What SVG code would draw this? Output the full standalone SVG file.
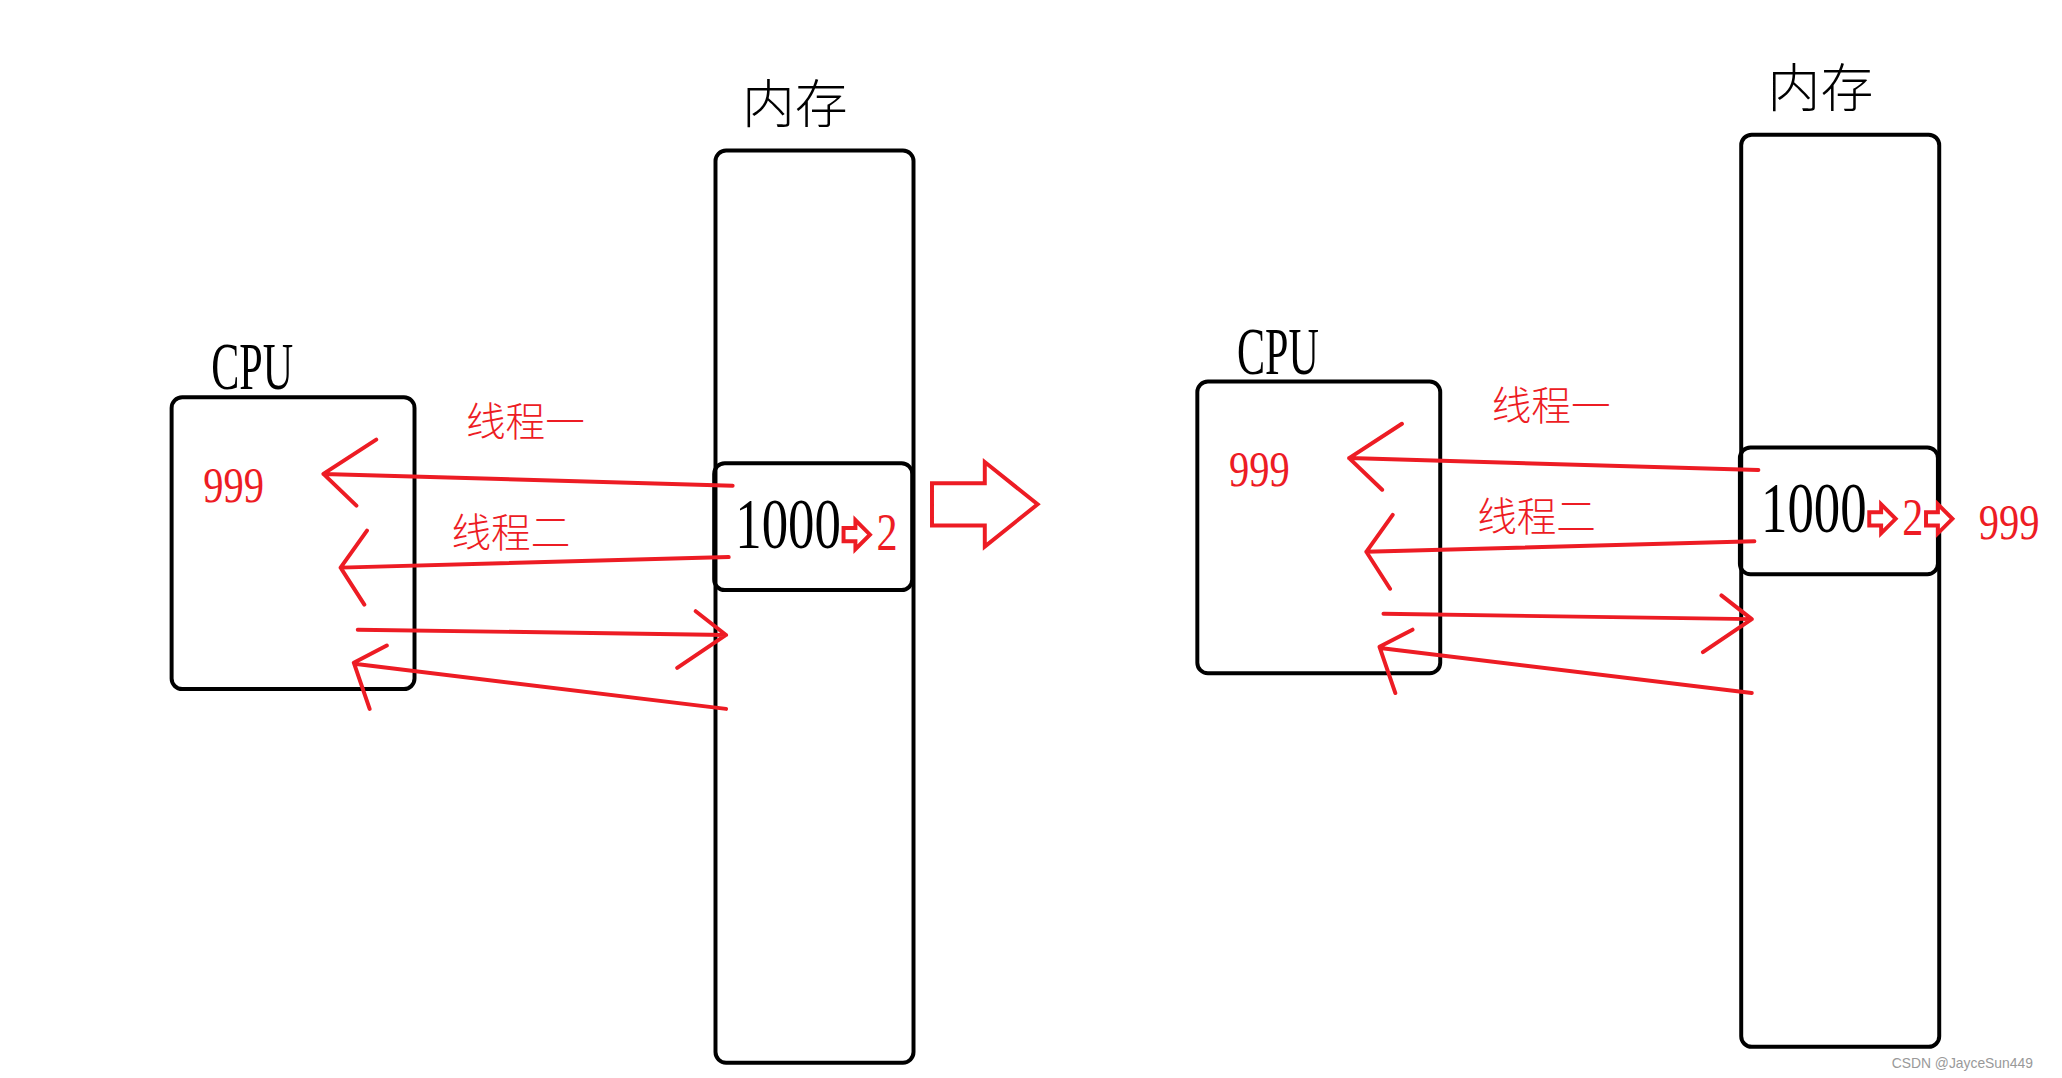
<svg xmlns="http://www.w3.org/2000/svg" width="2062" height="1078" viewBox="0 0 2062 1078">
<style>
.box{fill:none;stroke:#000;stroke-width:3}
.ln{fill:none;stroke:#ed1c24;stroke-width:3;stroke-linecap:round;stroke-linejoin:round}
.hol{fill:#fff;stroke:#ed1c24;stroke-width:3}
.blk{font-family:"Liberation Serif",serif;fill:#000}
.red{font-family:"Liberation Serif",serif;fill:#ed1c24}
.cn{font-family:"Noto Sans CJK SC",sans-serif;fill:#ed1c24;font-size:30px;font-weight:300}
.cnb{font-family:"Noto Sans CJK SC",sans-serif;fill:#000;font-size:40px;font-weight:300}
</style>
<rect width="2062" height="1078" fill="#fff"/>
<defs>
<g id="panel">
  <g id="mem"><rect class="box" x="542" y="114" width="150" height="691" rx="8"/><text class="cnb" x="562" y="93">内存</text></g>
  <g id="cell"><rect class="box" x="541" y="351" width="150" height="96" rx="8"/>
    <text class="blk" x="557" y="415" font-size="54" textLength="80" lengthAdjust="spacingAndGlyphs">1000</text>
    <path class="hol" stroke-width="2" d="M639 400h9v-6l11 11-11 11v-6h-9z"/>
    <text class="red" x="664" y="417" font-size="40" textLength="16" lengthAdjust="spacingAndGlyphs">2</text></g>
  <g id="cpu"><rect class="box" x="130" y="301" width="184" height="221" rx="8"/>
    <text class="blk" x="160" y="295" font-size="52" textLength="62" lengthAdjust="spacingAndGlyphs">CPU</text>
    <text class="red" x="154" y="380" font-size="38" textLength="46" lengthAdjust="spacingAndGlyphs">999</text></g>
  <text class="cn" x="353" y="330">线程一</text>
  <text class="cn" x="342" y="414">线程二</text>
  <g id="conn">
    <path class="ln" d="M555 368L245 359M285 333L245 359L270 383"/>
    <path class="ln" d="M552 422L258 430M278 402L258 430L276 458"/>
    <path class="ln" d="M271 477L550 481M527 463L550 481L513 506"/>
    <path class="ln" d="M550 537L270 503M293 489L268 502L280 537"/>
  </g>
</g>
</defs>
<g transform="scale(1.3201)">
  <use href="#panel"/>
  <g transform="translate(777,-12)"><use href="#panel"/></g>
  <path class="hol" stroke-width="2.5" d="M706 366h40v-16l40 32-40 32v-16h-40z"/>
  <path class="hol" stroke-width="2" d="M1459 388h9v-6l11 11-11 11v-6h-9z"/>
  <text class="red" x="1499" y="408" font-size="38" textLength="46" lengthAdjust="spacingAndGlyphs">999</text>
  <text x="1433" y="809" font-family="Liberation Sans,sans-serif" font-size="10.5" fill="#999">CSDN @JayceSun449</text>
</g>
</svg>
